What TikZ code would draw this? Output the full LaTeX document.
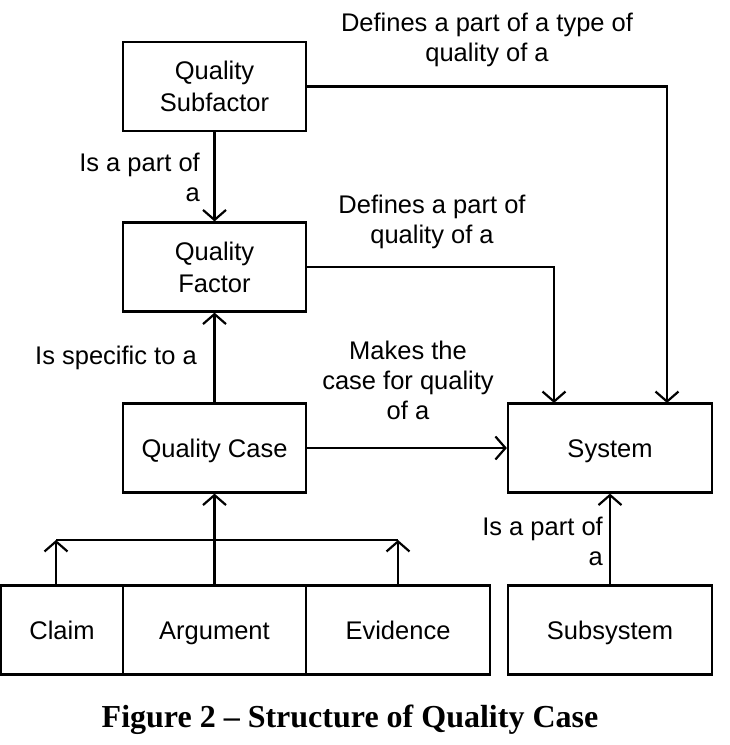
\documentclass[tikz,border=0pt]{standalone}
\usepackage{fontspec}
\setmainfont{Liberation Sans}
\newfontfamily\capfont{Liberation Serif}
\usetikzlibrary{arrows.meta}
\newcommand\bstrut{\rule[-6.5pt]{0pt}{31pt}}
\begin{document}
\begin{tikzpicture}[x=1pt,y=-1pt,
  box/.style={draw,line width=2.2pt,minimum width=183pt,minimum height=89pt,inner sep=0pt,align=center,font=\fontsize{25.5}{30}\selectfont},
  lbl/.style={inner sep=0pt,font=\fontsize{25.5}{30}\selectfont},
  conn/.style={line width=2.2pt},
  arr/.style={conn,-{Straight Barb[length=10pt,width=23pt,line width=2.2pt]}}]
\useasboundingbox (0,0) rectangle (730,745);
\node[box] (Sub) at (214.5,86.5) {\bstrut Quality\\\bstrut Subfactor};
\node[box] (Fac) at (214.5,267) {\bstrut Quality\\\bstrut Factor};
\node[box] (Case) at (214.5,448) {\bstrut Quality Case};
\node[box,minimum width=204pt] (Sys) at (610,448) {\bstrut System};
\node[box,minimum width=122pt] (Claim) at (62,630) {\bstrut Claim};
\node[box] (Arg) at (214.5,630) {\bstrut Argument};
\node[box,minimum width=184pt] (Evi) at (398,630) {\bstrut Evidence};
\node[box,minimum width=204pt] (Subs) at (610,630) {\bstrut Subsystem};
\coordinate (bL) at (56,540);
\coordinate (bR) at (398,540);
\coordinate (sysA) at (667,403);
\coordinate (sysB) at (554,403);
\draw[arr] (Sub) -- (Fac);
\draw[arr] (Case) -- (Fac);
\draw[arr] (Case) -- (Sys);
\draw[arr] (Arg) -- (Case);
\draw[arr] (Subs) -- (Sys);
\draw[arr] (Sub.east) -| (sysA);
\draw[arr] (Fac.east) -| (sysB);
\draw[conn] (bL) -- (bR);
\draw[arr] (Claim.north -| bL) -- (bL);
\draw[arr] (Evi.north -| bR) -- (bR);
\node[lbl,align=center] (l1) at (487,40) {Defines a part of a type of\\quality of a};
\node[lbl,align=right,anchor=east] (l2) at (200,177) {Is a part of\\a};
\node[lbl,align=center] (l3) at (432,222) {Defines a part of\\quality of a};
\node[lbl,anchor=east] (l4) at (197,358) {Is specific to a};
\node[lbl,align=center] (l5) at (408,380) {Makes the\\case for quality\\of a};
\node[lbl,align=right,anchor=east] (l6) at (603,541) {Is a part of\\a};
\node[inner sep=0pt,font=\capfont\bfseries\fontsize{32}{34}\selectfont] (cap) at (350,720) {Figure 2 – Structure of Quality Case};
\end{tikzpicture}
\end{document}
